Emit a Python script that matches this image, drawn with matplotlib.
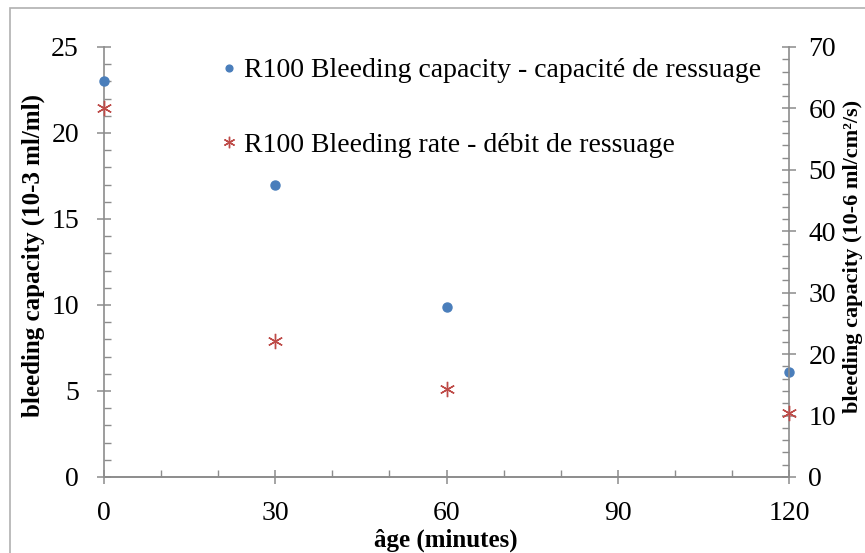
import matplotlib
matplotlib.use('Agg')
import matplotlib.pyplot as plt
from matplotlib.ticker import MultipleLocator
from matplotlib.patches import Rectangle

plt.rcParams['font.family'] = ['Liberation Serif', 'DejaVu Serif']

# datos
edad = [0, 30, 60, 120]
capacidad = [23.0, 17.0, 9.9, 6.1]      # eje izquierdo (10-3 ml/ml)
debito = [60.0, 22.2, 14.3, 10.4]       # eje derecho (10-6 ml/cm2/s)

azul = '#4a7ebb'
rojo = '#be4b48'
gris = '#8c8c8c'

fig = plt.figure(figsize=(8.65, 5.53), dpi=100)
fig.patches.append(Rectangle((10/865, -0.1), 1.2, 1 - 8/553 + 0.1, transform=fig.transFigure,
                             fill=False, edgecolor='#b0b0b0', lw=1.2))

ax = fig.add_axes([104/865, 76/553, 685/865, 430/553])
ax2 = ax.twinx()

p1, = ax.plot(edad, capacidad, 'o', color=azul, markersize=6.5, linestyle='none',
              label='R100 Bleeding capacity - capacité de ressuage', clip_on=False, zorder=5)
p2, = ax2.plot(edad, debito, marker=(6, 2, 0), color=rojo, markersize=11, markeredgewidth=1,
               linestyle='none', label='R100 Bleeding rate - débit de ressuage', clip_on=False, zorder=5)

ax.set_xlim(0, 120)
ax.set_ylim(0, 25)
ax2.set_ylim(0, 70)
ax.xaxis.set_major_locator(MultipleLocator(30))
ax.xaxis.set_minor_locator(MultipleLocator(10))
ax.yaxis.set_major_locator(MultipleLocator(5))
ax.yaxis.set_minor_locator(MultipleLocator(1))
ax2.yaxis.set_major_locator(MultipleLocator(10))
ax2.yaxis.set_minor_locator(MultipleLocator(2))

for a in (ax, ax2):
    a.spines['top'].set_visible(False)
    for s in ('left', 'right', 'bottom'):
        a.spines[s].set_color(gris)
        a.spines[s].set_linewidth(1.2)
    a.tick_params(which='major', direction='inout', length=10, width=1.1, color=gris,
                  labelsize=20, labelcolor='black')
    a.tick_params(which='minor', direction='in', length=5, width=1, color=gris)
ax.tick_params(axis='x', pad=12)
ax.tick_params(axis='y', pad=13)
ax2.tick_params(axis='y', pad=9)
ax2.spines['left'].set_visible(False)
ax.spines['right'].set_visible(False)

fig.text(446/865, 1 - 540/553, 'âge (minutes)', ha='center', va='center',
         fontsize=18, fontweight='bold')
fig.text(33/865, 1 - 256/553, 'bleeding capacity (10-3 ml/ml)', ha='center', va='center',
         rotation=90, fontsize=18, fontweight='bold')
fig.text(853/865, 1 - 256/553, 'bleeding capacity (10-6 ml/cm²/s)', ha='center', va='center',
         rotation=90, fontsize=16, fontweight='bold')

leg = ax.legend(handles=[p1, p2], loc='upper left', bbox_to_anchor=(222/865, 1 - 58/553),
                bbox_transform=fig.transFigure, frameon=False, fontsize=20,
                handlelength=0.5, handletextpad=0.3, labelspacing=1.75,
                borderpad=0, borderaxespad=0, markerscale=0.75)

fig.savefig('out.png', dpi=100)
